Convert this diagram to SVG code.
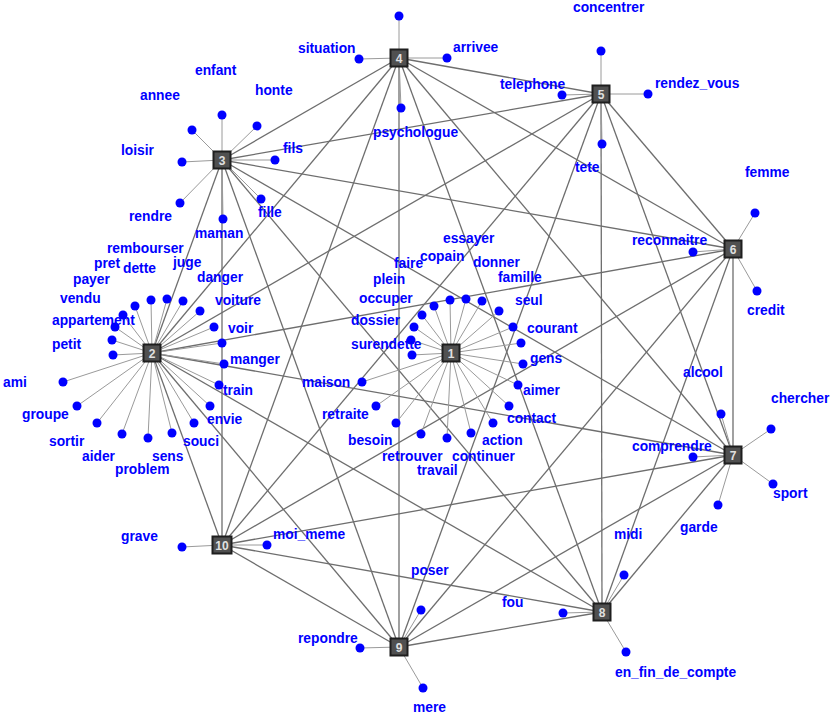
<svg xmlns="http://www.w3.org/2000/svg" width="832" height="715" viewBox="0 0 832 715">
<style>
.e{stroke:#6e6e6e;stroke-width:1.3;fill:none}
.l{stroke:#9a9a9a;stroke-width:1;fill:none}
.d{fill:#0000ff}
.t{font-family:"Liberation Sans",Arial,sans-serif;font-weight:bold;font-size:13.8px;fill:#0000ff}
.hb{fill:#505050;stroke:#1e1e1e;stroke-width:2}
.ht{font-family:"Liberation Sans",Arial,sans-serif;font-weight:bold;font-size:12px;fill:#e0e0e0;text-anchor:middle}
</style>
<rect width="832" height="715" fill="#fff"/>
<g id="connectors">
<line class="e" x1="152" y1="353" x2="222" y2="160"/>
<line class="e" x1="152" y1="353" x2="399" y2="58"/>
<line class="e" x1="152" y1="353" x2="601" y2="94"/>
<line class="e" x1="152" y1="353" x2="733" y2="249"/>
<line class="e" x1="152" y1="353" x2="733" y2="455"/>
<line class="e" x1="152" y1="353" x2="602" y2="612"/>
<line class="e" x1="152" y1="353" x2="399" y2="647"/>
<line class="e" x1="152" y1="353" x2="222" y2="545"/>
<line class="e" x1="222" y1="160" x2="399" y2="58"/>
<line class="e" x1="222" y1="160" x2="601" y2="94"/>
<line class="e" x1="222" y1="160" x2="733" y2="249"/>
<line class="e" x1="222" y1="160" x2="733" y2="455"/>
<line class="e" x1="222" y1="160" x2="602" y2="612"/>
<line class="e" x1="222" y1="160" x2="399" y2="647"/>
<line class="e" x1="222" y1="160" x2="222" y2="545"/>
<line class="e" x1="399" y1="58" x2="601" y2="94"/>
<line class="e" x1="399" y1="58" x2="733" y2="249"/>
<line class="e" x1="399" y1="58" x2="733" y2="455"/>
<line class="e" x1="399" y1="58" x2="602" y2="612"/>
<line class="e" x1="399" y1="58" x2="399" y2="647"/>
<line class="e" x1="399" y1="58" x2="222" y2="545"/>
<line class="e" x1="601" y1="94" x2="733" y2="249"/>
<line class="e" x1="601" y1="94" x2="733" y2="455"/>
<line class="e" x1="601" y1="94" x2="602" y2="612"/>
<line class="e" x1="601" y1="94" x2="399" y2="647"/>
<line class="e" x1="601" y1="94" x2="222" y2="545"/>
<line class="e" x1="733" y1="249" x2="733" y2="455"/>
<line class="e" x1="733" y1="249" x2="602" y2="612"/>
<line class="e" x1="733" y1="249" x2="399" y2="647"/>
<line class="e" x1="733" y1="249" x2="222" y2="545"/>
<line class="e" x1="733" y1="455" x2="602" y2="612"/>
<line class="e" x1="733" y1="455" x2="399" y2="647"/>
<line class="e" x1="733" y1="455" x2="222" y2="545"/>
<line class="e" x1="602" y1="612" x2="399" y2="647"/>
<line class="e" x1="602" y1="612" x2="222" y2="545"/>
<line class="e" x1="399" y1="647" x2="222" y2="545"/>
<g class="l">
<line x1="222" y1="160" x2="222" y2="115"/><line x1="222" y1="160" x2="192" y2="130"/><line x1="222" y1="160" x2="257" y2="126"/><line x1="222" y1="160" x2="182" y2="162"/><line x1="222" y1="160" x2="180" y2="203"/><line x1="222" y1="160" x2="223" y2="219"/><line x1="222" y1="160" x2="261" y2="199"/><line x1="222" y1="160" x2="275" y2="160"/>
<line x1="399" y1="58" x2="399" y2="16"/><line x1="399" y1="58" x2="359" y2="59"/><line x1="399" y1="58" x2="447" y2="58"/><line x1="399" y1="58" x2="401" y2="108"/>
<line x1="601" y1="94" x2="601" y2="51"/><line x1="601" y1="94" x2="648" y2="94"/><line x1="601" y1="94" x2="562" y2="95"/><line x1="601" y1="94" x2="602" y2="144"/>
<line x1="733" y1="249" x2="755" y2="213"/><line x1="733" y1="249" x2="693" y2="252"/><line x1="733" y1="249" x2="757" y2="291"/>
<line x1="733" y1="455" x2="721" y2="414"/><line x1="733" y1="455" x2="771" y2="429"/><line x1="733" y1="455" x2="693" y2="457"/><line x1="733" y1="455" x2="773" y2="484"/><line x1="733" y1="455" x2="718" y2="505"/>
<line x1="602" y1="612" x2="624" y2="575"/><line x1="602" y1="612" x2="563" y2="613"/><line x1="602" y1="612" x2="626" y2="652"/>
<line x1="399" y1="647" x2="421" y2="610"/><line x1="399" y1="647" x2="360" y2="648"/><line x1="399" y1="647" x2="423" y2="688"/>
<line x1="222" y1="545" x2="182" y2="547"/><line x1="222" y1="545" x2="267" y2="545"/>
<line x1="152" y1="353" x2="63" y2="382"/><line x1="152" y1="353" x2="113" y2="355"/><line x1="152" y1="353" x2="112" y2="340"/><line x1="152" y1="353" x2="115" y2="327"/><line x1="152" y1="353" x2="123" y2="315"/><line x1="152" y1="353" x2="135" y2="306"/><line x1="152" y1="353" x2="151" y2="300"/><line x1="152" y1="353" x2="167" y2="299"/><line x1="152" y1="353" x2="183" y2="301"/><line x1="152" y1="353" x2="200" y2="311"/><line x1="152" y1="353" x2="214" y2="327"/><line x1="152" y1="353" x2="222" y2="343"/><line x1="152" y1="353" x2="224" y2="364"/><line x1="152" y1="353" x2="219" y2="385"/><line x1="152" y1="353" x2="210" y2="406"/><line x1="152" y1="353" x2="194" y2="423"/><line x1="152" y1="353" x2="172" y2="433"/><line x1="152" y1="353" x2="148" y2="438"/><line x1="152" y1="353" x2="122" y2="434"/><line x1="152" y1="353" x2="97" y2="423"/><line x1="152" y1="353" x2="77" y2="406"/>
<line x1="451" y1="353" x2="362" y2="382"/><line x1="451" y1="353" x2="412" y2="355"/><line x1="451" y1="353" x2="411" y2="340"/><line x1="451" y1="353" x2="414" y2="327"/><line x1="451" y1="353" x2="422" y2="315"/><line x1="451" y1="353" x2="434" y2="306"/><line x1="451" y1="353" x2="450" y2="300"/><line x1="451" y1="353" x2="466" y2="299"/><line x1="451" y1="353" x2="482" y2="301"/><line x1="451" y1="353" x2="499" y2="311"/><line x1="451" y1="353" x2="513" y2="327"/><line x1="451" y1="353" x2="521" y2="343"/><line x1="451" y1="353" x2="523" y2="364"/><line x1="451" y1="353" x2="518" y2="385"/><line x1="451" y1="353" x2="509" y2="406"/><line x1="451" y1="353" x2="493" y2="423"/><line x1="451" y1="353" x2="471" y2="433"/><line x1="451" y1="353" x2="447" y2="438"/><line x1="451" y1="353" x2="421" y2="434"/><line x1="451" y1="353" x2="396" y2="423"/><line x1="451" y1="353" x2="376" y2="406"/>
</g>
</g>
<g id="leaf-enfant"><circle class="d" cx="222" cy="115" r="4.5"/><text class="t" x="195" y="75">enfant</text></g>
<g id="leaf-annee"><circle class="d" cx="192" cy="130" r="4.5"/><text class="t" x="140" y="100">annee</text></g>
<g id="leaf-honte"><circle class="d" cx="257" cy="126" r="4.5"/><text class="t" x="255" y="95">honte</text></g>
<g id="leaf-loisir"><circle class="d" cx="182" cy="162" r="4.5"/><text class="t" x="121" y="155">loisir</text></g>
<g id="leaf-rendre"><circle class="d" cx="180" cy="203" r="4.5"/><text class="t" x="129" y="221">rendre</text></g>
<g id="leaf-maman"><circle class="d" cx="223" cy="219" r="4.5"/><text class="t" x="195" y="238">maman</text></g>
<g id="leaf-fille"><circle class="d" cx="261" cy="199" r="4.5"/><text class="t" x="258" y="217">fille</text></g>
<g id="leaf-fils"><circle class="d" cx="275" cy="160" r="4.5"/><text class="t" x="283" y="153">fils</text></g>
<g id="leaf-4top"><circle class="d" cx="399" cy="16" r="4.5"/></g>
<g id="leaf-situation"><circle class="d" cx="359" cy="59" r="4.5"/><text class="t" x="298" y="53">situation</text></g>
<g id="leaf-arrivee"><circle class="d" cx="447" cy="58" r="4.5"/><text class="t" x="453" y="52">arrivee</text></g>
<g id="leaf-psychologue"><circle class="d" cx="401" cy="108" r="4.5"/><text class="t" x="373" y="137">psychologue</text></g>
<g id="leaf-concentrer"><circle class="d" cx="601" cy="51" r="4.5"/><text class="t" x="573" y="12">concentrer</text></g>
<g id="leaf-rendez_vous"><circle class="d" cx="648" cy="94" r="4.5"/><text class="t" x="655" y="88">rendez_vous</text></g>
<g id="leaf-telephone"><circle class="d" cx="562" cy="95" r="4.5"/><text class="t" x="500" y="89">telephone</text></g>
<g id="leaf-tete"><circle class="d" cx="602" cy="144" r="4.5"/><text class="t" x="575" y="172">tete</text></g>
<g id="leaf-femme"><circle class="d" cx="755" cy="213" r="4.5"/><text class="t" x="745" y="177">femme</text></g>
<g id="leaf-reconnaitre"><circle class="d" cx="693" cy="252" r="4.5"/><text class="t" x="632" y="245">reconnaitre</text></g>
<g id="leaf-credit"><circle class="d" cx="757" cy="291" r="4.5"/><text class="t" x="747" y="315">credit</text></g>
<g id="leaf-alcool"><circle class="d" cx="721" cy="414" r="4.5"/><text class="t" x="683" y="377">alcool</text></g>
<g id="leaf-chercher"><circle class="d" cx="771" cy="429" r="4.5"/><text class="t" x="771" y="403">chercher</text></g>
<g id="leaf-comprendre"><circle class="d" cx="693" cy="457" r="4.5"/><text class="t" x="632" y="451">comprendre</text></g>
<g id="leaf-sport"><circle class="d" cx="773" cy="484" r="4.5"/><text class="t" x="773" y="498">sport</text></g>
<g id="leaf-garde"><circle class="d" cx="718" cy="505" r="4.5"/><text class="t" x="680" y="532">garde</text></g>
<g id="leaf-midi"><circle class="d" cx="624" cy="575" r="4.5"/><text class="t" x="614" y="539">midi</text></g>
<g id="leaf-fou"><circle class="d" cx="563" cy="613" r="4.5"/><text class="t" x="502" y="607">fou</text></g>
<g id="leaf-en_fin_de_compte"><circle class="d" cx="626" cy="652" r="4.5"/><text class="t" x="615" y="677">en_fin_de_compte</text></g>
<g id="leaf-poser"><circle class="d" cx="421" cy="610" r="4.5"/><text class="t" x="411" y="575">poser</text></g>
<g id="leaf-repondre"><circle class="d" cx="360" cy="648" r="4.5"/><text class="t" x="298" y="643">repondre</text></g>
<g id="leaf-mere"><circle class="d" cx="423" cy="688" r="4.5"/><text class="t" x="413" y="712">mere</text></g>
<g id="leaf-grave"><circle class="d" cx="182" cy="547" r="4.5"/><text class="t" x="121" y="541">grave</text></g>
<g id="leaf-moi_meme"><circle class="d" cx="267" cy="545" r="4.5"/><text class="t" x="273" y="539">moi_meme</text></g>
<g id="leaf-ami"><circle class="d" cx="63" cy="382" r="4.5"/><text class="t" x="3" y="387">ami</text></g>
<g id="leaf-petit"><circle class="d" cx="113" cy="355" r="4.5"/><text class="t" x="52" y="349">petit</text></g>
<g id="leaf-appartement"><circle class="d" cx="112" cy="340" r="4.5"/><text class="t" x="52" y="325">appartement</text></g>
<g id="leaf-vendu"><circle class="d" cx="115" cy="327" r="4.5"/><text class="t" x="60" y="303">vendu</text></g>
<g id="leaf-payer"><circle class="d" cx="123" cy="315" r="4.5"/><text class="t" x="73" y="284">payer</text></g>
<g id="leaf-pret"><circle class="d" cx="135" cy="306" r="4.5"/><text class="t" x="94" y="268">pret</text></g>
<g id="leaf-dette"><circle class="d" cx="151" cy="300" r="4.5"/><text class="t" x="123" y="273">dette</text></g>
<g id="leaf-rembourser"><circle class="d" cx="167" cy="299" r="4.5"/><text class="t" x="107" y="253">rembourser</text></g>
<g id="leaf-juge"><circle class="d" cx="183" cy="301" r="4.5"/><text class="t" x="173" y="267">juge</text></g>
<g id="leaf-danger"><circle class="d" cx="200" cy="311" r="4.5"/><text class="t" x="197" y="282">danger</text></g>
<g id="leaf-voiture"><circle class="d" cx="214" cy="327" r="4.5"/><text class="t" x="215" y="305">voiture</text></g>
<g id="leaf-voir"><circle class="d" cx="222" cy="343" r="4.5"/><text class="t" x="228" y="333">voir</text></g>
<g id="leaf-manger"><circle class="d" cx="224" cy="364" r="4.5"/><text class="t" x="230" y="364">manger</text></g>
<g id="leaf-train"><circle class="d" cx="219" cy="385" r="4.5"/><text class="t" x="223" y="395">train</text></g>
<g id="leaf-envie"><circle class="d" cx="210" cy="406" r="4.5"/><text class="t" x="207" y="424">envie</text></g>
<g id="leaf-souci"><circle class="d" cx="194" cy="423" r="4.5"/><text class="t" x="183" y="446">souci</text></g>
<g id="leaf-sens"><circle class="d" cx="172" cy="433" r="4.5"/><text class="t" x="152" y="461">sens</text></g>
<g id="leaf-problem"><circle class="d" cx="148" cy="438" r="4.5"/><text class="t" x="115" y="474">problem</text></g>
<g id="leaf-aider"><circle class="d" cx="122" cy="434" r="4.5"/><text class="t" x="82" y="461">aider</text></g>
<g id="leaf-sortir"><circle class="d" cx="97" cy="423" r="4.5"/><text class="t" x="49" y="446">sortir</text></g>
<g id="leaf-groupe"><circle class="d" cx="77" cy="406" r="4.5"/><text class="t" x="22" y="419">groupe</text></g>
<g id="leaf-maison"><circle class="d" cx="362" cy="382" r="4.5"/><text class="t" x="302" y="387">maison</text></g>
<g id="leaf-surendette"><circle class="d" cx="412" cy="355" r="4.5"/><text class="t" x="351" y="349">surendette</text></g>
<g id="leaf-dossier"><circle class="d" cx="411" cy="340" r="4.5"/><text class="t" x="351" y="325">dossier</text></g>
<g id="leaf-occuper"><circle class="d" cx="414" cy="327" r="4.5"/><text class="t" x="359" y="303">occuper</text></g>
<g id="leaf-plein"><circle class="d" cx="422" cy="315" r="4.5"/><text class="t" x="373" y="284">plein</text></g>
<g id="leaf-faire"><circle class="d" cx="434" cy="306" r="4.5"/><text class="t" x="394" y="268">faire</text></g>
<g id="leaf-copain"><circle class="d" cx="450" cy="300" r="4.5"/><text class="t" x="420" y="261">copain</text></g>
<g id="leaf-essayer"><circle class="d" cx="466" cy="299" r="4.5"/><text class="t" x="443" y="243">essayer</text></g>
<g id="leaf-donner"><circle class="d" cx="482" cy="301" r="4.5"/><text class="t" x="473" y="267">donner</text></g>
<g id="leaf-famille"><circle class="d" cx="499" cy="311" r="4.5"/><text class="t" x="498" y="282">famille</text></g>
<g id="leaf-seul"><circle class="d" cx="513" cy="327" r="4.5"/><text class="t" x="515" y="305">seul</text></g>
<g id="leaf-courant"><circle class="d" cx="521" cy="343" r="4.5"/><text class="t" x="527" y="333">courant</text></g>
<g id="leaf-gens"><circle class="d" cx="523" cy="364" r="4.5"/><text class="t" x="530" y="363">gens</text></g>
<g id="leaf-aimer"><circle class="d" cx="518" cy="385" r="4.5"/><text class="t" x="523" y="395">aimer</text></g>
<g id="leaf-contact"><circle class="d" cx="509" cy="406" r="4.5"/><text class="t" x="507" y="423">contact</text></g>
<g id="leaf-action"><circle class="d" cx="493" cy="423" r="4.5"/><text class="t" x="482" y="445">action</text></g>
<g id="leaf-continuer"><circle class="d" cx="471" cy="433" r="4.5"/><text class="t" x="452" y="461">continuer</text></g>
<g id="leaf-travail"><circle class="d" cx="447" cy="438" r="4.5"/><text class="t" x="417" y="475">travail</text></g>
<g id="leaf-retrouver"><circle class="d" cx="421" cy="434" r="4.5"/><text class="t" x="382" y="461">retrouver</text></g>
<g id="leaf-besoin"><circle class="d" cx="396" cy="423" r="4.5"/><text class="t" x="348" y="445">besoin</text></g>
<g id="leaf-retraite"><circle class="d" cx="376" cy="406" r="4.5"/><text class="t" x="322" y="419">retraite</text></g>
<g id="node-1"><rect class="hb" x="442.5" y="344.5" width="17" height="17"/><text class="ht" x="451" y="357.5">1</text></g>
<g id="node-2"><rect class="hb" x="143.5" y="344.5" width="17" height="17"/><text class="ht" x="152" y="357.5">2</text></g>
<g id="node-3"><rect class="hb" x="213.5" y="151.5" width="17" height="17"/><text class="ht" x="222" y="164.5">3</text></g>
<g id="node-4"><rect class="hb" x="390.5" y="49.5" width="17" height="17"/><text class="ht" x="399" y="62.5">4</text></g>
<g id="node-5"><rect class="hb" x="592.5" y="85.5" width="17" height="17"/><text class="ht" x="601" y="98.5">5</text></g>
<g id="node-6"><rect class="hb" x="724.5" y="240.5" width="17" height="17"/><text class="ht" x="733" y="253.5">6</text></g>
<g id="node-7"><rect class="hb" x="724.5" y="446.5" width="17" height="17"/><text class="ht" x="733" y="459.5">7</text></g>
<g id="node-8"><rect class="hb" x="593.5" y="603.5" width="17" height="17"/><text class="ht" x="602" y="616.5">8</text></g>
<g id="node-9"><rect class="hb" x="390.5" y="638.5" width="17" height="17"/><text class="ht" x="399" y="651.5">9</text></g>
<g id="node-10"><rect class="hb" x="212.5" y="536.5" width="19" height="17"/><text class="ht" x="222" y="549.5">10</text></g>
</svg>
